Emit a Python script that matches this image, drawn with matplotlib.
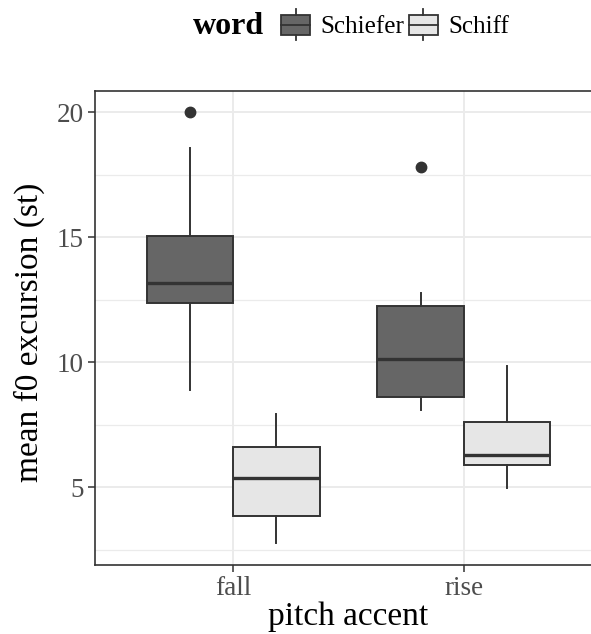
import matplotlib
matplotlib.use("Agg")
import matplotlib.pyplot as plt
from matplotlib.patches import Rectangle
from matplotlib.lines import Line2D
from matplotlib.legend_handler import HandlerBase

# ---- data ----
categories = ["fall", "rise"]
words = ["Schiefer", "Schiff"]
schiefer_q1 = [12.38, 8.62]
schiefer_med = [13.17, 10.14]
schiefer_q3 = [15.07, 12.25]
schiefer_lo = [8.89, 8.09]
schiefer_hi = [18.56, 12.79]
schiefer_out = [[20.0], [17.81]]
schiff_q1 = [3.84, 5.88]
schiff_med = [5.38, 6.29]
schiff_q3 = [6.61, 7.61]
schiff_lo = [2.76, 4.96]
schiff_hi = [7.92, 9.85]
schiff_out = [[], []]
yticks = [5, 10, 15, 20]
yminor = [2.5, 7.5, 12.5, 17.5]

fills = {"Schiefer": "#666666", "Schiff": "#E6E6E6"}
edge = "#333333"

plt.rcParams["font.family"] = ["Liberation Serif", "DejaVu Serif"]

fig = plt.figure(figsize=(5.91, 6.34), dpi=100)
W, H = 591, 634
x0, x1, y0, y1 = 95, 602, 91, 565
ax = fig.add_axes([x0 / W, 1 - y1 / H, (x1 - x0) / W, (y1 - y0) / H])

series = {
    "Schiefer": (schiefer_q1, schiefer_med, schiefer_q3, schiefer_lo, schiefer_hi, schiefer_out),
    "Schiff": (schiff_q1, schiff_med, schiff_q3, schiff_lo, schiff_hi, schiff_out),
}
dodge = 0.75
bw = dodge / 2
for j, w in enumerate(words):
    q1, med, q3, lo, hi, out = series[w]
    stats = []
    for i in range(len(categories)):
        stats.append(dict(q1=q1[i], med=med[i], q3=q3[i], whislo=lo[i], whishi=hi[i], fliers=out[i]))
    pos = [i + 1 + (j - 0.5) * bw for i in range(len(categories))]
    ax.bxp(stats, positions=pos, widths=bw, patch_artist=True, showcaps=False,
           boxprops=dict(facecolor=fills[w], edgecolor=edge, linewidth=1.4),
           whiskerprops=dict(color=edge, linewidth=1.4),
           medianprops=dict(color=edge, linewidth=2.4, solid_capstyle="butt"),
           flierprops=dict(marker="o", markerfacecolor=edge, markeredgecolor=edge, markersize=7.5),
           manage_ticks=False, zorder=3)

ax.set_xlim(0.4, 2.6)
ax.set_ylim(1.89, 20.85)
ax.set_xticks([1, 2])
ax.set_xticklabels(categories)
ax.set_yticks(yticks)
ax.set_yticks(yminor, minor=True)
ax.tick_params(axis="both", which="major", length=5, width=1.1, color=edge,
               labelsize=19.5, labelcolor="#4D4D4D", pad=3)
ax.tick_params(axis="y", which="minor", length=0)
ax.grid(True, which="major", color="#EBEBEB", linewidth=1.4, zorder=0)
ax.grid(True, which="minor", axis="y", color="#EBEBEB", linewidth=0.9, zorder=0)
ax.set_axisbelow(True)
for s in ax.spines.values():
    s.set_color(edge)
    s.set_linewidth(1.2)
ax.spines["right"].set_visible(False)

ax.set_xlabel("pitch accent", fontsize=24)
ax.set_ylabel("mean f0 excursion (st)", fontsize=24)
ax.yaxis.set_label_coords((45 - x0) / (x1 - x0), 0.49)
ax.xaxis.set_label_coords(0.5, -(601 - y1) / (y1 - y0))


class BoxHandler(HandlerBase):
    def __init__(self, fc):
        super().__init__()
        self.fc = fc

    def create_artists(self, legend, orig_handle, xdescent, ydescent, width, height, fontsize, trans):
        bh = 20 * 0.72  # px -> pt
        by = (height - bh) / 2 - ydescent
        bx = -xdescent
        r = Rectangle((bx, by), width, bh, facecolor=self.fc, edgecolor=edge, linewidth=1.3, transform=trans)
        cx = bx + width / 2
        top = by + bh
        ext = 5.5 * 0.72
        l1 = Line2D([cx, cx], [top, top + ext], color=edge, linewidth=1.3, transform=trans)
        l2 = Line2D([cx, cx], [by - ext, by], color=edge, linewidth=1.3, transform=trans)
        m = Line2D([bx, bx + width], [by + bh / 2, by + bh / 2], color=edge, linewidth=1.3, transform=trans)
        return [r, l1, l2, m]


handles = [Rectangle((0, 0), 1, 1) for _ in words]
hmap = {h: BoxHandler(fills[w]) for h, w in zip(handles, words)}
fig.text(193 / W, 1 - 26 / H, "word", fontsize=23, fontweight="bold", ha="left", va="center")
leg = fig.legend(handles, words, handler_map=hmap, ncol=2, loc="center left",
                 bbox_to_anchor=(281 / W, 1 - 26 / H), frameon=False, fontsize=18,
                 handlelength=1.16, handleheight=1.0, handletextpad=0.4, columnspacing=0.2,
                 borderaxespad=0, borderpad=0)

fig.savefig("out.png", dpi=100)
